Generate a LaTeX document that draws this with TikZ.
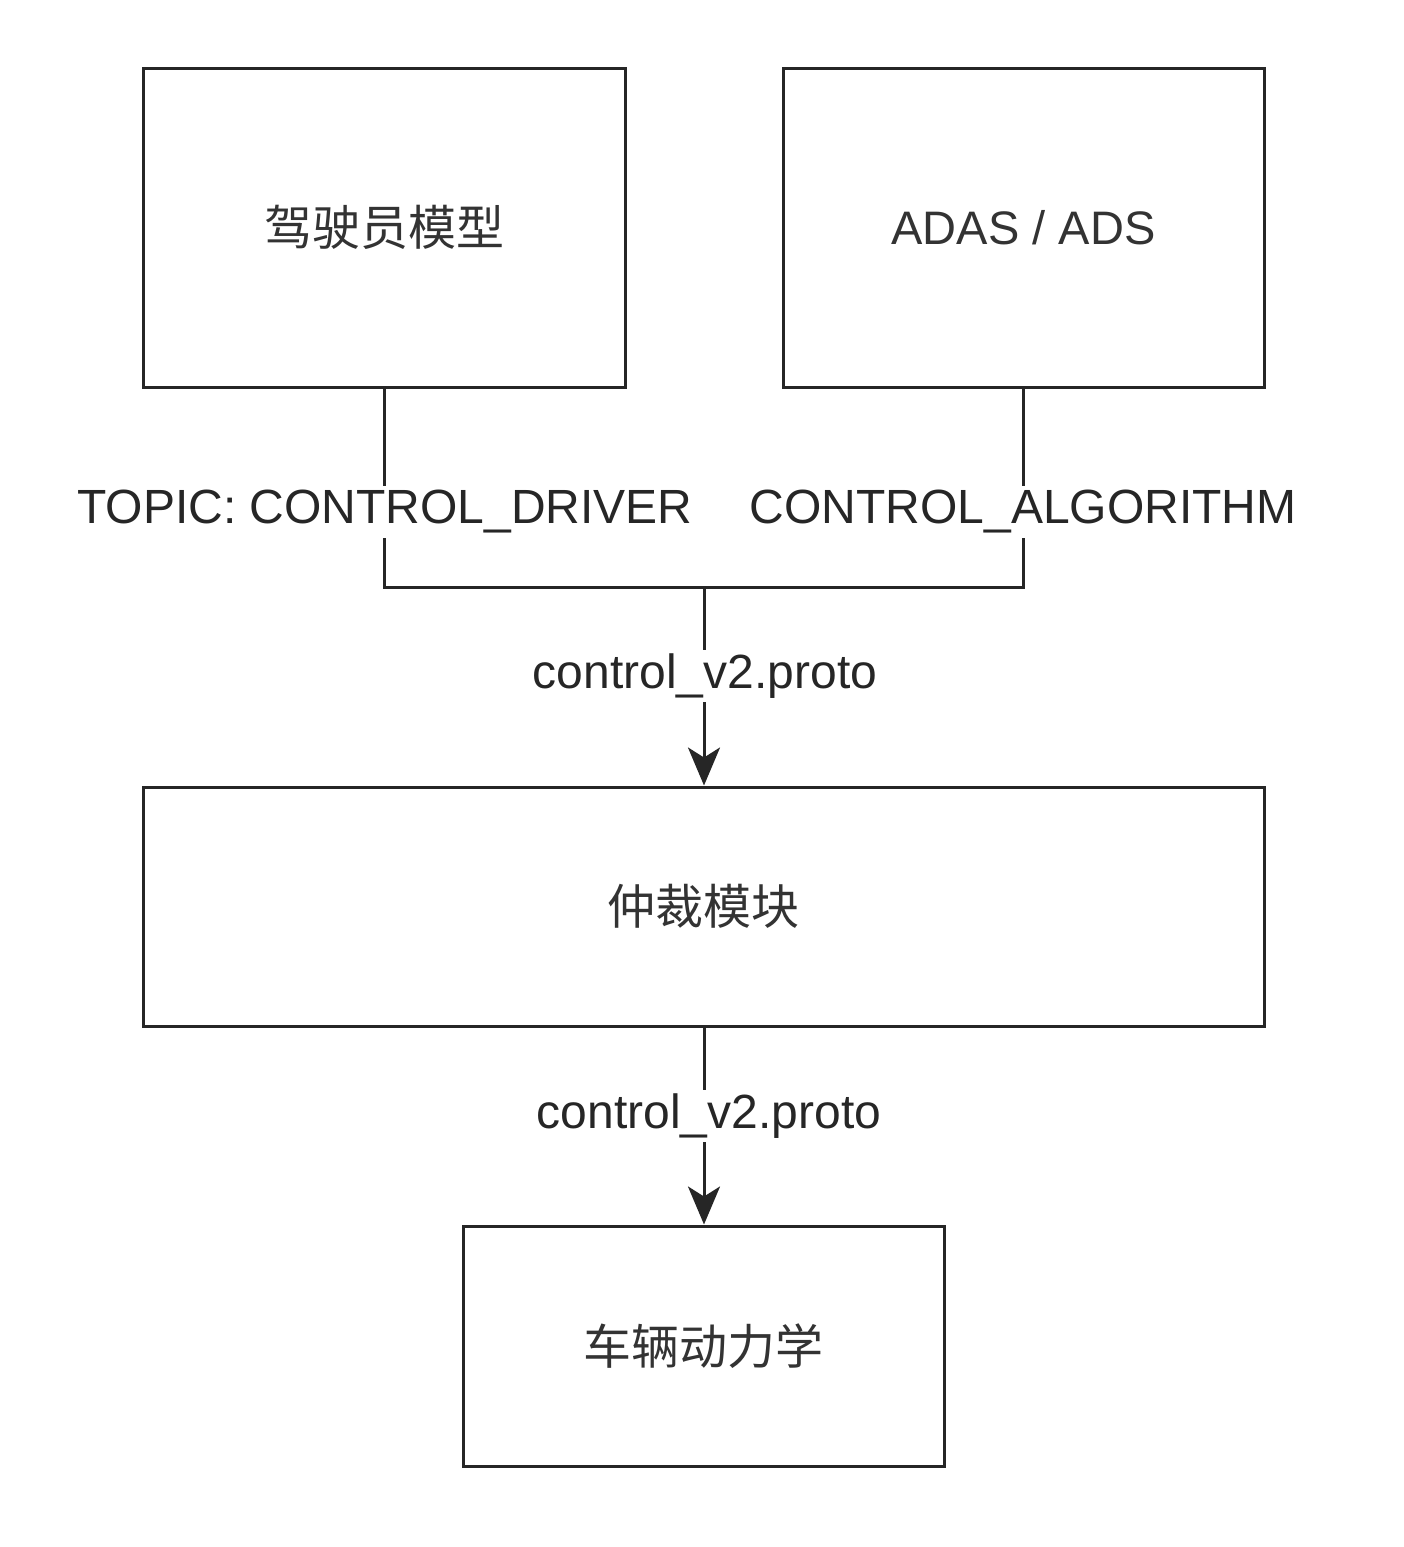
\documentclass[tikz,border=0pt]{standalone}
\usepackage{fontspec}
\setmainfont{Liberation Sans}
\newfontfamily\cjk{Noto Sans CJK SC}
\usetikzlibrary{arrows.meta}
\begin{document}
\begin{tikzpicture}[x=0.5pt,y=-0.5pt,
  box/.style={draw=black!85,line width=1.5pt,inner sep=0pt,font=\cjk\fontsize{24}{28}\selectfont,text=black!80},
  conn/.style={draw=black!85,line width=1.5pt},
  arr/.style={conn,-{Stealth[length=19pt,width=16pt,inset=5pt]}},
  lbl/.style={fill=white,inner sep=2pt,font=\fontsize{24}{28}\selectfont,text=black!85}]
\useasboundingbox (0,0) rectangle (1403,1547);
\node[box,minimum width=241pt,minimum height=159.5pt] (driver) at (384,227.5) {驾驶员模型};
\node[box,minimum width=240.5pt,minimum height=159.5pt,font=\fontsize{23.5}{28}\selectfont] (adas) at (1023.5,227.5) {ADAS / ADS};
\node[box,minimum width=560.5pt,minimum height=119.5pt] (arb) at (703.5,906.5) {仲裁模块};
\node[box,minimum width=240.5pt,minimum height=120pt] (veh) at (703.5,1346) {车辆动力学};
\coordinate (jl) at (384,587);
\coordinate (jr) at (1023.5,587);
\coordinate (jm) at (704,587);
\draw[conn] (driver.south) -- (jl) -- (jr) -- (adas.south);
\draw[arr] (jm) -- (arb.north -| jm);
\draw[arr] (arb.south -| jm) -- (veh.north -| jm);
\node[lbl] (l1) at (385,512) {TOPIC: CONTROL\_DRIVER};
\node[lbl] (l2) at (1023,512) {CONTROL\_ALGORITHM};
\node[lbl] (l3) at (705,676) {control\_v2.proto};
\node[lbl] (l4) at (709,1116) {control\_v2.proto};
\end{tikzpicture}
\end{document}
